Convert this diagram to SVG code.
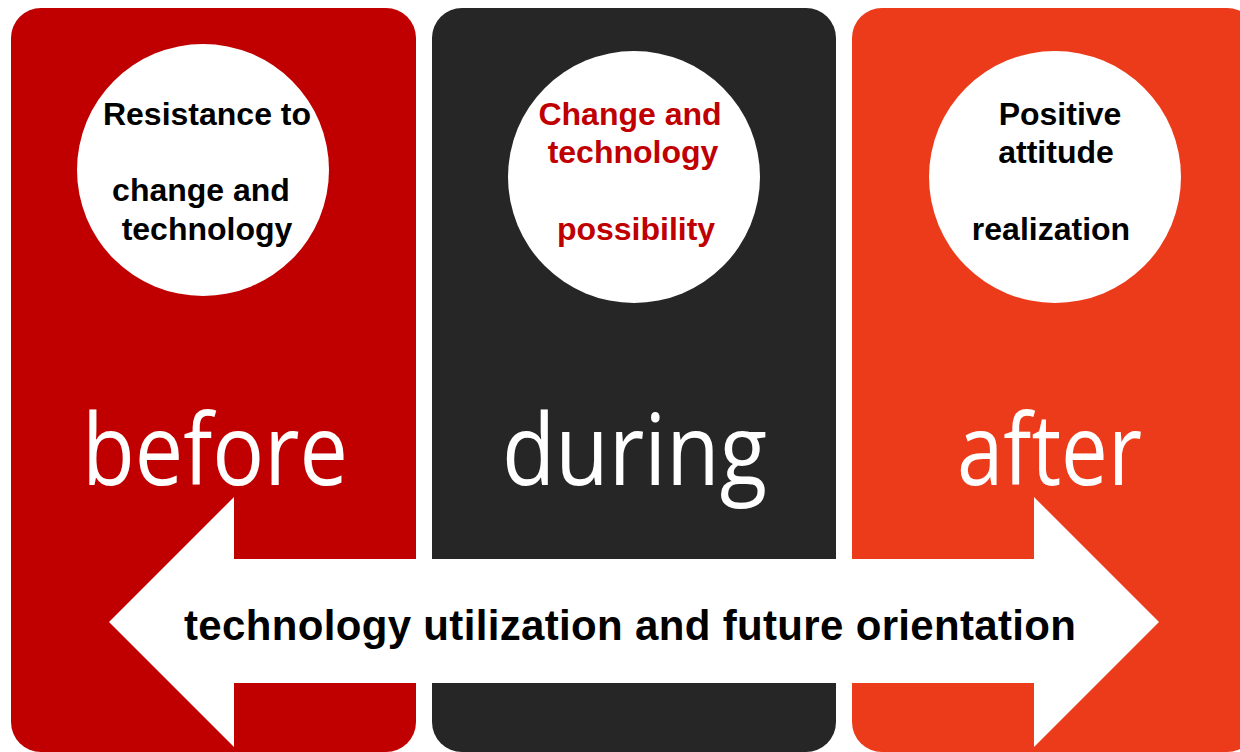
<svg xmlns="http://www.w3.org/2000/svg" width="1240" height="752" viewBox="0 0 1240 752">
<style>
.circ{fill:#ffffff}
.ct{font-family:"Liberation Sans",Arial,sans-serif;font-weight:bold;font-size:32px;text-anchor:middle}
.big{font-family:"Open Sans","Noto Sans",sans-serif;font-weight:400;font-size:98px;fill:#ffffff}
.arrowtxt{font-family:"Liberation Sans",Arial,sans-serif;font-weight:bold;font-size:42px;fill:#000000}
</style>
<rect width="1240" height="752" fill="#ffffff"/>
<g id="before">
<rect x="11" y="8" width="405" height="744" rx="30" ry="30" fill="#C00000"/>
<circle class="circ" cx="203" cy="170" r="126"/>
<text class="ct" fill="#000000"><tspan x="207" y="125">Resistance to</tspan><tspan x="201" y="201">change and</tspan><tspan x="207" y="240">technology</tspan></text>
<text class="big" x="82" y="485" textLength="266" lengthAdjust="spacingAndGlyphs">before</text>
</g>
<g id="during">
<rect x="432" y="8" width="404" height="744" rx="30" ry="30" fill="#262626"/>
<circle class="circ" cx="634" cy="177" r="126"/>
<text class="ct" fill="#C00000"><tspan x="630" y="125">Change and</tspan><tspan x="633" y="163">technology</tspan><tspan x="636" y="240">possibility</tspan></text>
<text class="big" x="502" y="485" textLength="265" lengthAdjust="spacingAndGlyphs">during</text>
</g>
<g id="after">
<rect x="852" y="8" width="405" height="744" rx="30" ry="30" fill="#EC3B1A"/>
<circle class="circ" cx="1055" cy="177" r="126"/>
<text class="ct" fill="#000000"><tspan x="1060" y="125">Positive</tspan><tspan x="1056" y="163">attitude</tspan><tspan x="1051" y="240">realization</tspan></text>
<text class="big" x="957" y="485" textLength="185" lengthAdjust="spacingAndGlyphs">after</text>
</g>
<g id="connectors">
<polygon points="109,622 234,497 234,559 1034,559 1034,497 1159,622 1034,747 1034,683 234,683 234,747" fill="#ffffff"/>
<text class="arrowtxt" x="184" y="640" textLength="892">technology utilization and future orientation</text>
</g>
</svg>
